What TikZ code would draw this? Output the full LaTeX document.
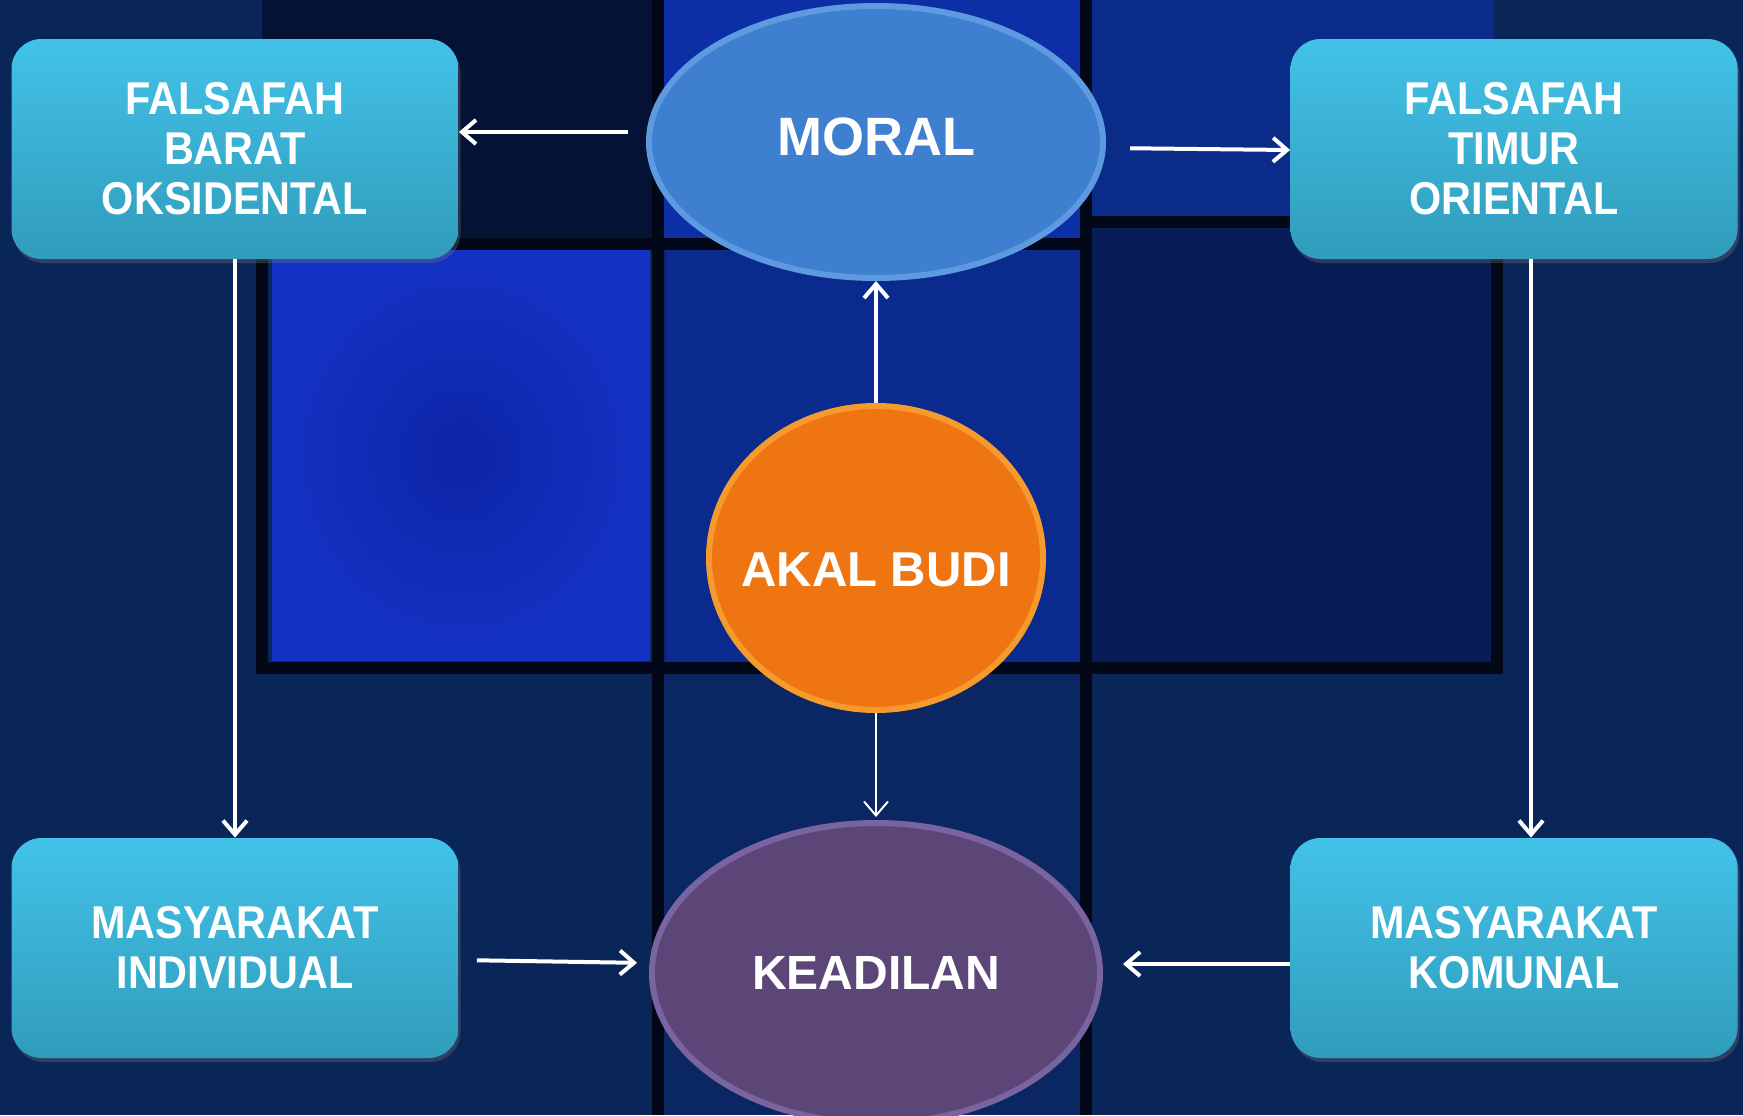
\documentclass[tikz,border=0pt]{standalone}
\usepackage{fontspec}
\setmainfont{Liberation Sans}
\newfontfamily\boxfont[FakeStretch=0.9]{Liberation Sans}
\usetikzlibrary{positioning, shapes.geometric, arrows.meta, calc, shadows}

\definecolor{navy}{HTML}{0A2558}
\definecolor{tiledark}{HTML}{041235}
\definecolor{tilebright}{HTML}{1432C4}
\definecolor{tileinner}{HTML}{0C24A6}
\definecolor{tilemid}{HTML}{0D2FA5}
\definecolor{tilemidlow}{HTML}{0B2A8E}
\definecolor{tileright}{HTML}{0B2B88}
\definecolor{tiledeep}{HTML}{081D55}
\definecolor{joint}{HTML}{020818}
\definecolor{boxtop}{HTML}{42C2E8}
\definecolor{boxbot}{HTML}{319CBB}
\definecolor{moralfill}{HTML}{3F7FCF}
\definecolor{moralrim}{HTML}{5E9ADF}
\definecolor{akalfill}{HTML}{EF7512}
\definecolor{akalrim}{HTML}{F79A2E}
\definecolor{adilfill}{HTML}{5C4677}
\definecolor{adilrim}{HTML}{7A64A0}

\begin{document}
\begin{tikzpicture}[
  x=0.5pt, y=-0.5pt,
  >={Straight Barb[length=7pt,width=12pt]},
  box/.style={rectangle, rounded corners=15pt, top color=boxtop, bottom color=boxbot,
    minimum width=223.5pt, minimum height=110pt, align=center, text=white,
    font=\boxfont\bfseries\fontsize{23}{25}\selectfont,
    drop shadow={shadow xshift=1pt, shadow yshift=-2pt, opacity=.3}},
  concept/.style 2 args={ellipse, fill=#1, draw=#2, line width=3pt, text=white, inner sep=0pt},
  arr/.style={->, white, line width=2pt}
]
\useasboundingbox (0,0) rectangle (1743,1115);
\begin{scope}
\clip (0,0) rectangle (1743,1115);

% Background tiles
\fill[navy] (0,0) rectangle (1743,1115);
\fill[tiledark] (262,0) rectangle (658,240);
\shade[inner color=tileinner, outer color=tilebright] (272,250) rectangle (650,660);
\fill[tilemid] (664,0) rectangle (1080,240);
\fill[tilemidlow] (666,250) rectangle (1080,662);
\fill[tileright] (1092,0) rectangle (1494,216);
\fill[tiledeep] (1092,228) rectangle (1492,662);
\fill[navy!85!tilemid] (664,675) rectangle (1080,1115);

% Dark joints between tiles
\draw[joint, line width=6pt] (262,244) -- (262,668) -- (1497,668) -- (1497,205);
\draw[joint, line width=6pt] (658,0) -- (658,1115);
\draw[joint, line width=6pt] (1086,0) -- (1086,1115);
\draw[joint, line width=6pt] (262,244) -- (1086,244);
\draw[joint, line width=6pt] (1086,222) -- (1497,222);

% Side boxes
\node[box] (barat) at (235,149) {FALSAFAH\\BARAT\\OKSIDENTAL};
\node[box] (timur) at (1514,149) {FALSAFAH\\TIMUR\\ORIENTAL};
\node[box] (indiv) at (235,948) {MASYARAKAT\\INDIVIDUAL};
\node[box] (komunal) at (1514,948) {MASYARAKAT\\KOMUNAL};

% Central ellipses
\node[concept={moralfill}{moralrim}, minimum width=227pt, minimum height=136pt,
  text height=19.3pt, text depth=5.6pt,
  font=\bfseries\fontsize{27}{30}\selectfont] (moral) at (876,142) {MORAL};
\node[concept={akalfill}{akalrim}, minimum width=167pt, minimum height=152pt,
  inner xsep=-12pt, text height=28.5pt, text depth=0pt,
  font=\bfseries\fontsize{24.5}{28}\selectfont] (akal) at (876,558) {AKAL BUDI};
\node[concept={adilfill}{adilrim}, minimum width=224pt, minimum height=150pt,
  font=\bfseries\fontsize{24}{28}\selectfont] (adil) at (876,973) {KEADILAN};

% Connectors
\draw[arr, shorten <=9pt] ([yshift=5pt]moral.west) -- ([yshift=5pt]moral.west -| barat.east);
\draw[arr, shorten <=12pt] ([yshift=-3pt]moral.east) -- ([yshift=-4pt]moral.east -| timur.west);
\draw[arr] (akal.north) -- (moral.south);
\draw[->, white, line width=1pt, shorten >=1.5pt] (akal.south) -- (adil.north);
\draw[arr] (barat.south) -- (indiv.north);
\draw[arr] ([xshift=8.5pt]timur.south) -- ([xshift=8.5pt]komunal.north);
\draw[arr, shorten <=9pt, shorten >=6pt] ([yshift=-6pt]indiv.east) -- ([yshift=-7.5pt]indiv.east -| adil.west);
\draw[arr, shorten >=10pt] ([yshift=-8pt]komunal.west) -- ([yshift=-8pt]komunal.west -| adil.east);
\end{scope}
\end{tikzpicture}
\end{document}
